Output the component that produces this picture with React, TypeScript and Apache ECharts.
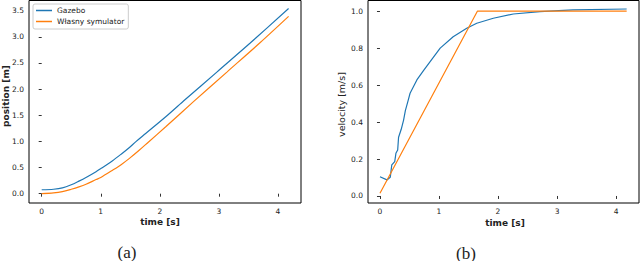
import React, { useEffect, useRef } from "react";
import * as echarts from "echarts";

const seriesNames = ["Gazebo", "Własny symulator"];

// Position plot (a)
const posGazeboTime = [0, 0.2, 0.35, 0.5, 0.63, 0.75, 0.92, 1.0, 1.2, 1.35, 1.48, 1.6, 1.76, 2.1, 2.43, 2.97, 3.53, 4.18];
const posGazebo = [0.075, 0.085, 0.11, 0.17, 0.24, 0.31, 0.42, 0.48, 0.63, 0.76, 0.88, 1.0, 1.15, 1.47, 1.8, 2.33, 2.88, 3.54];
const posSimTime = [0, 0.2, 0.35, 0.5, 0.63, 0.75, 0.92, 1.0, 1.2, 1.35, 1.48, 1.65, 1.8, 2.1, 2.57, 3.14, 3.7, 4.18];
const posSim = [0.0, 0.015, 0.04, 0.085, 0.13, 0.18, 0.27, 0.31, 0.45, 0.56, 0.67, 0.83, 0.98, 1.28, 1.76, 2.33, 2.89, 3.39];

// Velocity plot (b)
const velGazeboTime = [0, 0.118, 0.174, 0.2, 0.25, 0.27, 0.3, 0.315, 0.36, 0.4, 0.43, 0.48, 0.51, 0.625, 0.74, 0.85, 1.02, 1.24, 1.47, 1.64, 1.92, 2.26, 2.71, 3.27, 4.18];
const velGazebo = [0.104, 0.087, 0.101, 0.168, 0.186, 0.231, 0.249, 0.318, 0.361, 0.411, 0.462, 0.52, 0.556, 0.628, 0.68, 0.727, 0.8, 0.862, 0.908, 0.935, 0.962, 0.985, 0.998, 1.007, 1.012];
const velSimTime = [0, 1.65, 4.18];
const velSim = [0.015, 1.0, 1.0];

const xTicks = [0, 1, 2, 3, 4];
const posTicks = [0, 0.5, 1.0, 1.5, 2.0, 2.5, 3.0, 3.5];
const velTicks = [0, 0.2, 0.4, 0.6, 0.8, 1.0];

const BLUE = "#1f77b4";
const ORANGE = "#ff7f0e";
const FONT = "DejaVu Sans";

const zip = (a: number[], b: number[]) => a.map((v, i) => [v, b[i]]);

function xAxisCfg(grid: number, min: number, max: number) {
  return {
    gridIndex: grid,
    type: "value",
    min,
    max,
    axisLine: { show: false },
    splitLine: { show: false },
    axisTick: { show: true, length: 3, lineStyle: { color: "#000", width: 0.8 }, customValues: xTicks },
    axisLabel: {
      customValues: xTicks,
      fontSize: 7.5,
      fontFamily: FONT,
      color: "#222",
      margin: 4,
      formatter: (v: number) => String(v),
    },
  };
}

function yAxisCfg(grid: number, min: number, max: number, ticks: number[]) {
  return {
    gridIndex: grid,
    type: "value",
    min,
    max,
    axisLine: { show: false },
    splitLine: { show: false },
    axisTick: { show: true, length: 3, lineStyle: { color: "#000", width: 0.8 }, customValues: ticks },
    axisLabel: {
      customValues: ticks,
      fontSize: 7.5,
      fontFamily: FONT,
      color: "#222",
      margin: 5,
      formatter: (v: number) => v.toFixed(1),
    },
  };
}

function lineSeries(name: string, data: number[][], color: string, grid: number, smooth: number | boolean) {
  return {
    name,
    type: "line",
    xAxisIndex: grid,
    yAxisIndex: grid,
    data,
    symbol: "none",
    showSymbol: false,
    smooth,
    color,
    lineStyle: { color, width: 1.2 },
  };
}

function label(text: string, x: number, y: number, font: string, rotate = false) {
  return {
    type: "text",
    x,
    y,
    rotation: rotate ? Math.PI / 2 : 0,
    style: {
      text,
      font,
      fill: "#222",
      textAlign: "center",
      textVerticalAlign: "middle",
      align: "center",
      verticalAlign: "middle",
    },
  };
}

export default function App() {
  const ref = useRef<HTMLDivElement>(null);
  useEffect(() => {
    if (!ref.current) return;
    const chart = echarts.init(ref.current, null, { renderer: "svg" });
    chart.setOption({
      animation: false,
      backgroundColor: "#fff",
      grid: [
        { left: 29, top: 0.5, width: 272, height: 202.5, show: true, borderColor: "#000", borderWidth: 1, backgroundColor: "transparent" },
        { left: 368, top: 0.5, width: 271, height: 202.5, show: true, borderColor: "#000", borderWidth: 1, backgroundColor: "transparent" },
      ],
      xAxis: [xAxisCfg(0, -0.215, 4.39), xAxisCfg(1, -0.203, 4.389)],
      yAxis: [yAxisCfg(0, -0.178, 3.694, posTicks), yAxisCfg(1, -0.038, 1.058, velTicks)],
      legend: {
        left: 33,
        top: 4,
        orient: "vertical",
        icon: "rect",
        itemWidth: 16,
        itemHeight: 1.5,
        itemGap: 2,
        padding: [2, 4, 3, 3],
        borderColor: "#ccc",
        borderWidth: 1,
        borderRadius: 2,
        backgroundColor: "rgba(255,255,255,0.8)",
        textStyle: { fontSize: 7.5, fontFamily: FONT, color: "#222", lineHeight: 9 },
        data: seriesNames,
      },
      series: [
        lineSeries(seriesNames[0], zip(posGazeboTime, posGazebo), BLUE, 0, 0.3),
        lineSeries(seriesNames[1], zip(posSimTime, posSim), ORANGE, 0, 0.3),
        lineSeries(seriesNames[0], zip(velGazeboTime, velGazebo), BLUE, 1, false),
        lineSeries(seriesNames[1], zip(velSimTime, velSim), ORANGE, 1, false),
      ],
      graphic: [
        label("time [s]", 160, 222, `bold 9px "${FONT}"`),
        label("time [s]", 505, 223, `bold 9px "${FONT}"`),
        label("position [m]", 6, 96, `bold 9px "${FONT}"`, true),
        label("velocity [m/s]", 341, 104.5, `9.5px "${FONT}"`, true),
        label("(a)", 127, 252.5, `17px "Liberation Serif"`),
        label("(b)", 466, 253, `17px "Liberation Serif"`),
      ],
    });
    return () => chart.dispose();
  }, []);
  return <div ref={ref} style={{ position: "absolute", left: 0, top: 0, width: 640, height: 261 }} />;
}
